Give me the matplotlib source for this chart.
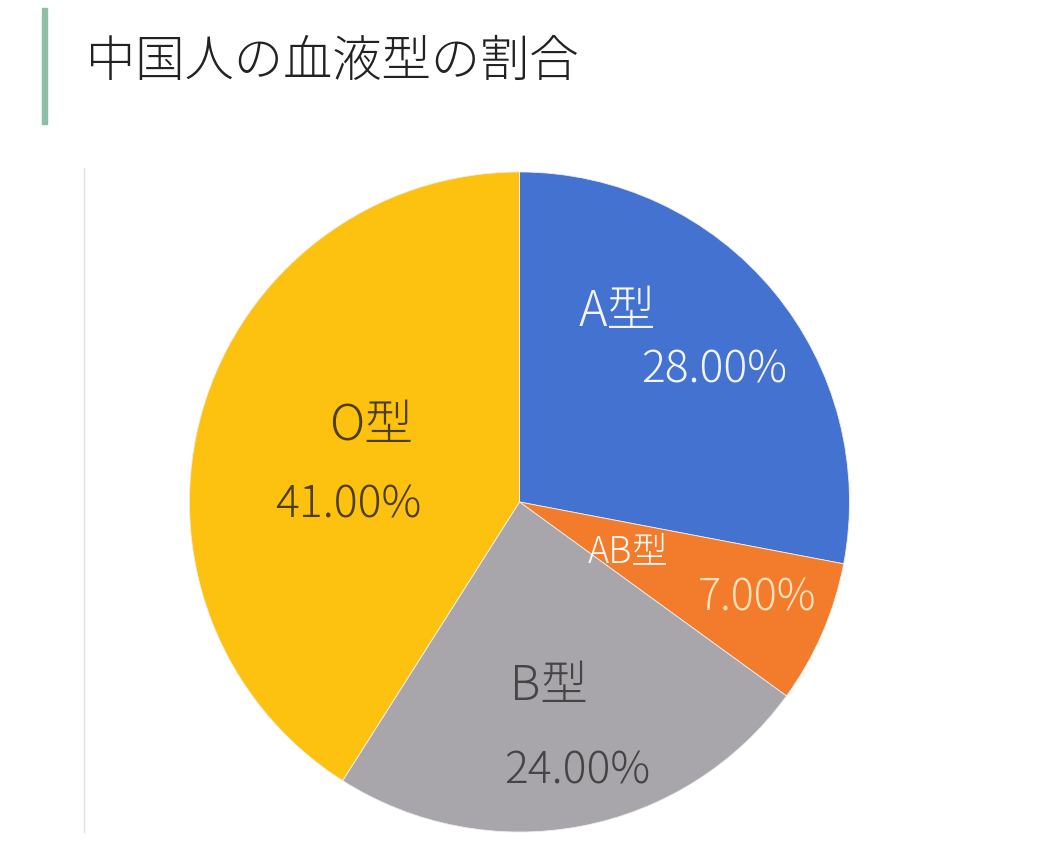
import matplotlib
matplotlib.use('Agg')
import matplotlib.pyplot as plt
from matplotlib.patches import Rectangle
from matplotlib.lines import Line2D

plt.rcParams['font.family'] = ['Noto Sans CJK JP', 'DejaVu Sans']

# data
types = ['A型', 'AB型', 'B型', 'O型']
shares = [28.0, 7.0, 24.0, 41.0]
colors = ['#4372d0', '#f27c2c', '#a8a6ab', '#fcc20f']

# label styling and placement (in pie data units, radius = 1)
name_pos = [(0.295, 0.575), (0.33, -0.155), (0.09, -0.56), (-0.45, 0.23)]
pct_pos = [(0.59, 0.40), (0.72, -0.29), (0.175, -0.815), (-0.52, -0.01)]
name_colors = ['#f4f4f4', '#f8f8f8', '#454545', '#4d3d12']
pct_colors = ['#f4f4f4', '#f6e2b8', '#454545', '#4d3d12']
name_sizes = [35, 26, 34, 35]
pct_sizes = [32, 31, 32, 32]

fig = plt.figure(figsize=(10.4, 8.64), dpi=100)
fig.patch.set_facecolor('white')

# green accent bar + title
fig.patches.append(Rectangle((42 / 1040, 1 - 124 / 864), 5 / 1040, 116 / 864,
                             transform=fig.transFigure, color='#8dbfa6', zorder=0))
fig.text(86 / 1040, 1 - 62 / 864, '中国人の血液型の割合', fontsize=35.5,
         color='#222222', va='center', ha='left', fontweight='light')

# thin grey border on the left of the picture area
fig.lines.append(Line2D([84 / 1040, 84 / 1040], [1 - 168 / 864, 1 - 832 / 864],
                        transform=fig.transFigure, color='#e2e2e2', lw=1))

ax = fig.add_axes([0.182, 0.037, 0.635, 0.764])
ax.pie(shares, colors=colors, startangle=90, counterclock=False,
       wedgeprops=dict(linewidth=0.6, edgecolor='#eeeeee'))
ax.set_aspect('equal')
ax.set_xlim(-1, 1)
ax.set_ylim(-1, 1)

for i in range(len(types)):
    ax.text(name_pos[i][0], name_pos[i][1], types[i], ha='center', va='center',
            fontsize=name_sizes[i], color=name_colors[i], fontweight='light')
    ax.text(pct_pos[i][0], pct_pos[i][1], f'{shares[i]:.2f}%', ha='center', va='center',
            fontsize=pct_sizes[i], color=pct_colors[i], fontweight='light')

fig.savefig('out.png', dpi=100)
